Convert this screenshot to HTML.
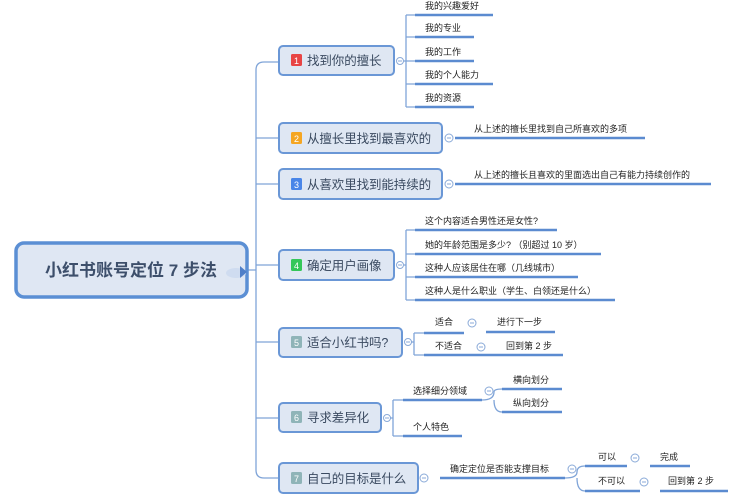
<!DOCTYPE html>
<html><head><meta charset="utf-8"><style>
html,body{margin:0;padding:0;background:#fff;}
svg{display:block;font-family:"Liberation Sans","Noto Sans CJK SC",sans-serif;}
.n{fill:#dfe7f3;stroke:#6a97d6;stroke-width:2;}
.t{font-size:12.5px;fill:#3a4a60;letter-spacing:-0.1px;}
.s{font-size:9px;fill:#222;}
.u{stroke:#5b8bd0;stroke-width:2.5;fill:none;}
.l{stroke:#7fa4d8;stroke-width:1.3;fill:none;}
.c{fill:#fff;stroke:#8aaad8;stroke-width:1;}
</style></head><body>
<svg width="735" height="495" viewBox="0 0 735 495">
<path class="l" d="M248 270 H256 M256 70 Q256 62 264 62 H279 M256 70 V470 Q256 478 264 478 H279 M256 138 H279 M256 184 H279 M256 265 H279 M256 342 H279 M256 418 H279"/>
<rect x="16" y="243" width="231" height="54" rx="8" fill="#dfe7f3" stroke="#5b8fd4" stroke-width="3.5"/>
<text x="131" y="276" text-anchor="middle" font-size="17" font-weight="bold" fill="#3d4f6b">小红书账号定位 7 步法</text>
<ellipse cx="236" cy="273" rx="10" ry="5" fill="#cfdcf0"/>
<path d="M240 266 L247 272 L240 278 Z" fill="#4f7fc8"/>
<text x="278" y="278" font-size="9" fill="#3060b0">Sky</text>
<rect class="n" x="279" y="46" width="115" height="29" rx="4"/>
<rect x="291" y="54" width="11" height="12" rx="1.5" fill="#e84545"/><text x="296.5" y="64" text-anchor="middle" font-size="9" fill="#fff">1</text>
<text class="t" x="307" y="65">找到你的擅长</text>
<rect class="n" x="279" y="123" width="163" height="30" rx="4"/>
<rect x="291" y="132" width="11" height="12" rx="1.5" fill="#f5a623"/><text x="296.5" y="142" text-anchor="middle" font-size="9" fill="#fff">2</text>
<text class="t" x="307" y="143">从擅长里找到最喜欢的</text>
<rect class="n" x="279" y="169" width="163" height="30" rx="4"/>
<rect x="291" y="178" width="11" height="12" rx="1.5" fill="#4a86e8"/><text x="296.5" y="188" text-anchor="middle" font-size="9" fill="#fff">3</text>
<text class="t" x="307" y="189">从喜欢里找到能持续的</text>
<rect class="n" x="279" y="250" width="115" height="30" rx="4"/>
<rect x="291" y="259" width="11" height="12" rx="1.5" fill="#34c759"/><text x="296.5" y="269" text-anchor="middle" font-size="9" fill="#fff">4</text>
<text class="t" x="307" y="270">确定用户画像</text>
<rect class="n" x="279" y="328" width="123" height="29" rx="4"/>
<rect x="291" y="336" width="11" height="12" rx="1.5" fill="#8fb4b8"/><text x="296.5" y="346" text-anchor="middle" font-size="9" fill="#fff">5</text>
<text class="t" x="307" y="347">适合小红书吗?</text>
<rect class="n" x="279" y="403" width="102" height="29" rx="4"/>
<rect x="291" y="411" width="11" height="12" rx="1.5" fill="#8fb4b8"/><text x="296.5" y="421" text-anchor="middle" font-size="9" fill="#fff">6</text>
<text class="t" x="307" y="422">寻求差异化</text>
<rect class="n" x="279" y="463" width="139" height="30" rx="4"/>
<rect x="291" y="472" width="11" height="12" rx="1.5" fill="#8fb4b8"/><text x="296.5" y="482" text-anchor="middle" font-size="9" fill="#fff">7</text>
<text class="t" x="307" y="483">自己的目标是什么</text>
<path class="l" d="M400 61 H406 M406 15 V107 M406 15 H415 M406 37 H415 M406 61 H415 M406 84 H415 M406 107 H415"/>
<circle class="c" cx="400" cy="61" r="3.5"/>
<path class="u" d="M415 15 H493 M415 37 H474 M415 61 H474 M415 84 H493 M415 107 H474"/>
<text class="s" x="425" y="9">我的兴趣爱好</text>
<text class="s" x="425" y="31">我的专业</text>
<text class="s" x="425" y="55">我的工作</text>
<text class="s" x="425" y="78">我的个人能力</text>
<text class="s" x="425" y="101">我的资源</text>
<circle class="c" cx="449" cy="138" r="4"/><path class="u" d="M455 138 H645"/>
<text class="s" x="474" y="132">从上述的擅长里找到自己所喜欢的多项</text>
<circle class="c" cx="449" cy="184" r="4"/><path class="u" d="M455 184 H711"/>
<text class="s" x="474" y="178">从上述的擅长且喜欢的里面选出自己有能力持续创作的</text>
<circle class="c" cx="400" cy="265" r="3.5"/>
<path class="l" d="M404 265 H406 M406 230 V300 M406 230 H415 M406 254 H415 M406 277 H415 M406 300 H415"/>
<path class="u" d="M415 230 H557 M415 254 H601 M415 277 H578 M415 300 H615"/>
<text class="s" x="425" y="224">这个内容适合男性还是女性?</text>
<text class="s" x="425" y="248">她的年龄范围是多少? （别超过 10 岁）</text>
<text class="s" x="425" y="271">这种人应该居住在哪（几线城市）</text>
<text class="s" x="425" y="294">这种人是什么职业（学生、白领还是什么）</text>
<circle class="c" cx="408" cy="342" r="3.5"/>
<path class="l" d="M411 342 H414 M414 333 V355 M414 333 H424 M414 355 H424"/>
<path class="u" d="M424 333 H464 M486 332 H555 M424 355 H520 M496 355 H563"/>
<text class="s" x="435" y="325">适合</text><circle class="c" cx="472" cy="323" r="4"/>
<text class="s" x="497" y="325">进行下一步</text>
<text class="s" x="435" y="349">不适合</text><circle class="c" cx="481" cy="347" r="4"/>
<text class="s" x="506" y="349">回到第 2 步</text>
<circle class="c" cx="387" cy="418" r="3.5"/>
<path class="l" d="M390 418 H393 M393 400 V436 M393 400 H403 M393 436 H403 M482 400 Q494 400 494 392 Q494 389 502 389 M494 400 Q494 412 502 412"/>
<path class="u" d="M403 400 H482 M502 389 H562 M502 412 H562 M403 436 H462"/>
<text class="s" x="413" y="394">选择细分领域</text><circle class="c" cx="489" cy="391" r="4"/>
<text class="s" x="513" y="383">横向划分</text>
<text class="s" x="513" y="406">纵向划分</text>
<text class="s" x="413" y="430">个人特色</text>
<circle class="c" cx="424" cy="478" r="4"/>
<path class="u" d="M440 478 H565"/>
<text class="s" x="450" y="472">确定定位是否能支撑目标</text>
<circle class="c" cx="572" cy="469" r="4"/>
<path class="l" d="M565 478 Q577 478 577 472 Q577 466 585 466 M577 478 Q577 491 585 491"/>
<path class="u" d="M585 466 H627 M650 466 H690 M585 491 H640 M660 491 H728"/>
<text class="s" x="598" y="460">可以</text><circle class="c" cx="635" cy="458" r="4"/>
<text class="s" x="660" y="460">完成</text>
<text class="s" x="598" y="484">不可以</text><circle class="c" cx="644" cy="482" r="4"/>
<text class="s" x="668" y="484">回到第 2 步</text>
<g stroke="#8aaad8" stroke-width="1">
<path d="M398 61 H402 M447 138 H451 M447 184 H451 M398 265 H402 M406 342 H410 M470 323 H474 M479 347 H483 M385 418 H389 M487 391 H491 M422 478 H426 M570 469 H574 M633 458 H637 M642 482 H646"/>
</g>
</svg>
</body></html>
